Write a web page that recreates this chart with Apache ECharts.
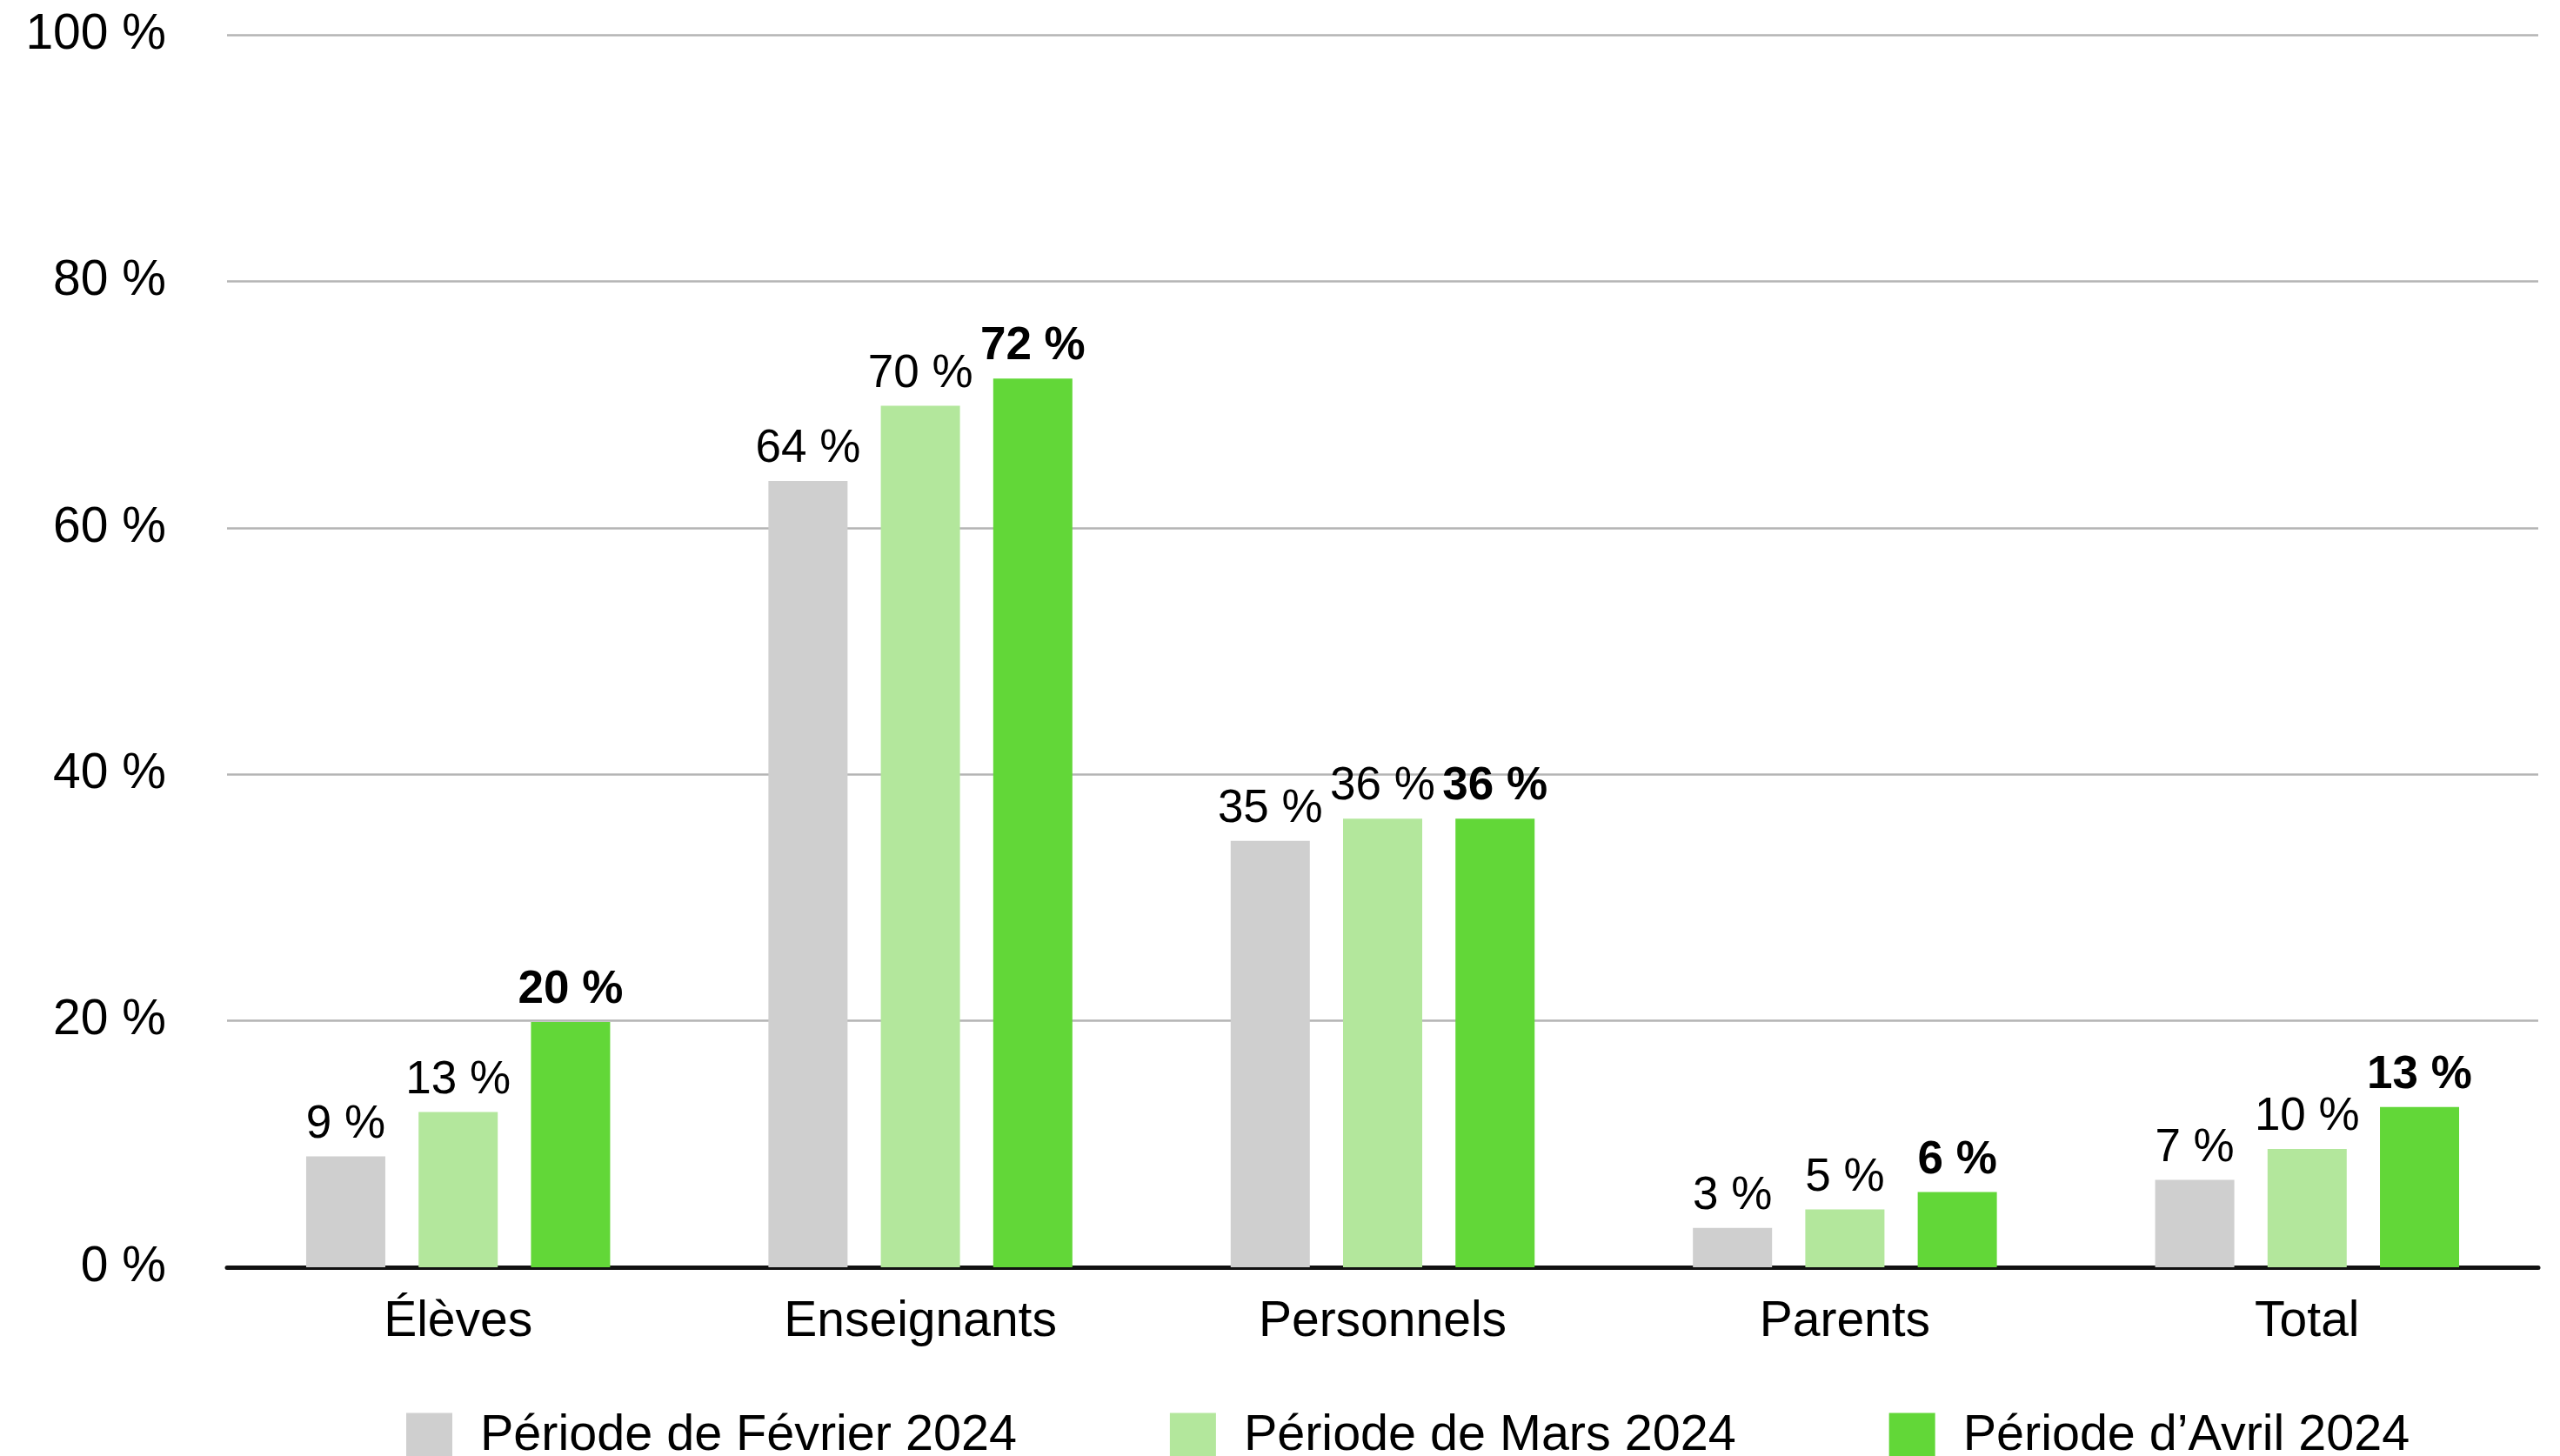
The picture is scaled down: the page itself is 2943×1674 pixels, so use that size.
<!DOCTYPE html>
<html>
<head>
<meta charset="utf-8">
<script src="https://cdn.jsdelivr.net/npm/echarts@6/dist/echarts.min.js"></script>
<style>
html,body{margin:0;padding:0;background:#fff;}
#chart{width:2943px;height:1674px;}
</style>
</head>
<body>
<div id="chart"></div>
<script>
const categories = ['Élèves', 'Enseignants', 'Personnels', 'Parents', 'Total'];
const seriesNames = ['Période de Février 2024', 'Période de Mars 2024', 'Période d\u2019Avril 2024'];
const fevrier = [9.0, 63.8, 34.6, 3.2, 7.1];
const mars = [12.6, 69.9, 36.4, 4.7, 9.6];
const avril = [19.9, 72.1, 36.4, 6.1, 13.0];
const yTicks = [0, 20, 40, 60, 80, 100];

const FONT = '"Liberation Sans", Arial, Helvetica, sans-serif';
const colors = ['#cfcfcf', '#b3e79c', '#62d738'];

function makeSeries(name, data, color, bold) {
  return {
    name: name,
    type: 'bar',
    data: data,
    barWidth: 91,
    barGap: '42%',
    itemStyle: { color: color },
    label: {
      show: true,
      position: 'top',
      distance: 10,
      color: '#000',
      fontFamily: FONT,
      fontSize: 53,
      fontWeight: bold ? 'bold' : 'normal',
      formatter: p => Math.round(p.value) + ' %'
    }
  };
}

const chart = echarts.init(document.getElementById('chart'), null, { renderer: 'canvas' });
chart.setOption({
  animation: false,
  backgroundColor: '#ffffff',
  grid: { left: 261, right: 25, top: 40, bottom: 217, containLabel: false },
  legend: {
    data: seriesNames,
    left: 462,
    top: 1617,
    itemWidth: 53,
    itemHeight: 53,
    itemGap: 176,
    icon: 'rect',
    textStyle: { fontFamily: FONT, fontSize: 57.5, color: '#000', padding: [0, 0, 0, 27] }
  },
  xAxis: {
    type: 'category',
    data: categories,
    axisLine: { show: true, lineStyle: { color: '#111', width: 5 } },
    axisTick: { show: false },
    axisLabel: { fontFamily: FONT, fontSize: 57, color: '#000', margin: 35 }
  },
  yAxis: {
    type: 'value',
    min: yTicks[0],
    max: yTicks[yTicks.length - 1],
    interval: yTicks[1] - yTicks[0],
    axisLine: { show: false },
    axisTick: { show: false },
    splitLine: { show: true, lineStyle: { color: '#b4b4b4', width: 2.5 } },
    axisLabel: { fontFamily: FONT, fontSize: 57, color: '#000', margin: 70, formatter: v => v + ' %' }
  },
  series: [
    makeSeries(seriesNames[0], fevrier, colors[0], false),
    makeSeries(seriesNames[1], mars, colors[1], false),
    makeSeries(seriesNames[2], avril, colors[2], true)
  ]
});
</script>
</body>
</html>
